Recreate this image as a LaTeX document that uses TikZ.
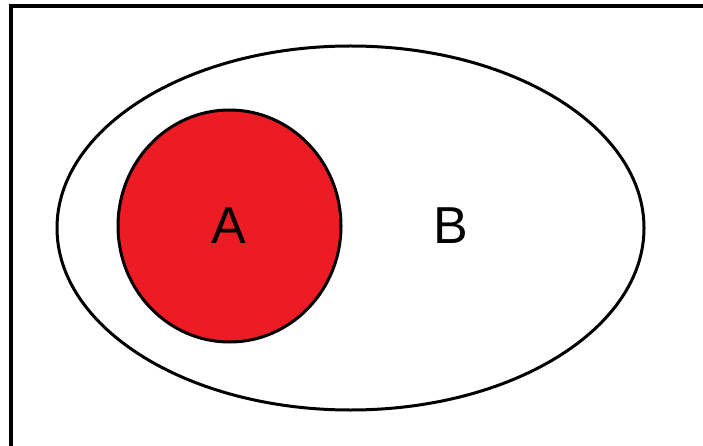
\documentclass[tikz,border=0pt]{standalone}
\usepackage{fontspec}
\setmainfont{Liberation Sans}
\usetikzlibrary{shapes.geometric}
\definecolor{setred}{HTML}{ED1C24}
\tikzset{
  outline/.style={draw=black, line width=3pt, ellipse, inner sep=0pt},
  setlabel/.style={font=\fontsize{52}{52}\selectfont, inner sep=0pt, anchor=base}
}
\begin{document}
\begin{tikzpicture}[x=1pt, y=-1pt]
\useasboundingbox (0,0) rectangle (703,446);
\draw[line width=4pt] (11,446) -- (11,6) -- (703,6);
\node[outline, minimum width=587pt, minimum height=364pt] (B) at (350.5,228) {};
\node[outline, fill=setred, minimum width=223pt, minimum height=232pt] (Aset) at (229.5,226) {};
\node[setlabel] (A) at (229,243) {A};
\node[setlabel] (Blabel) at (451,243) {B};
\end{tikzpicture}
\end{document}
